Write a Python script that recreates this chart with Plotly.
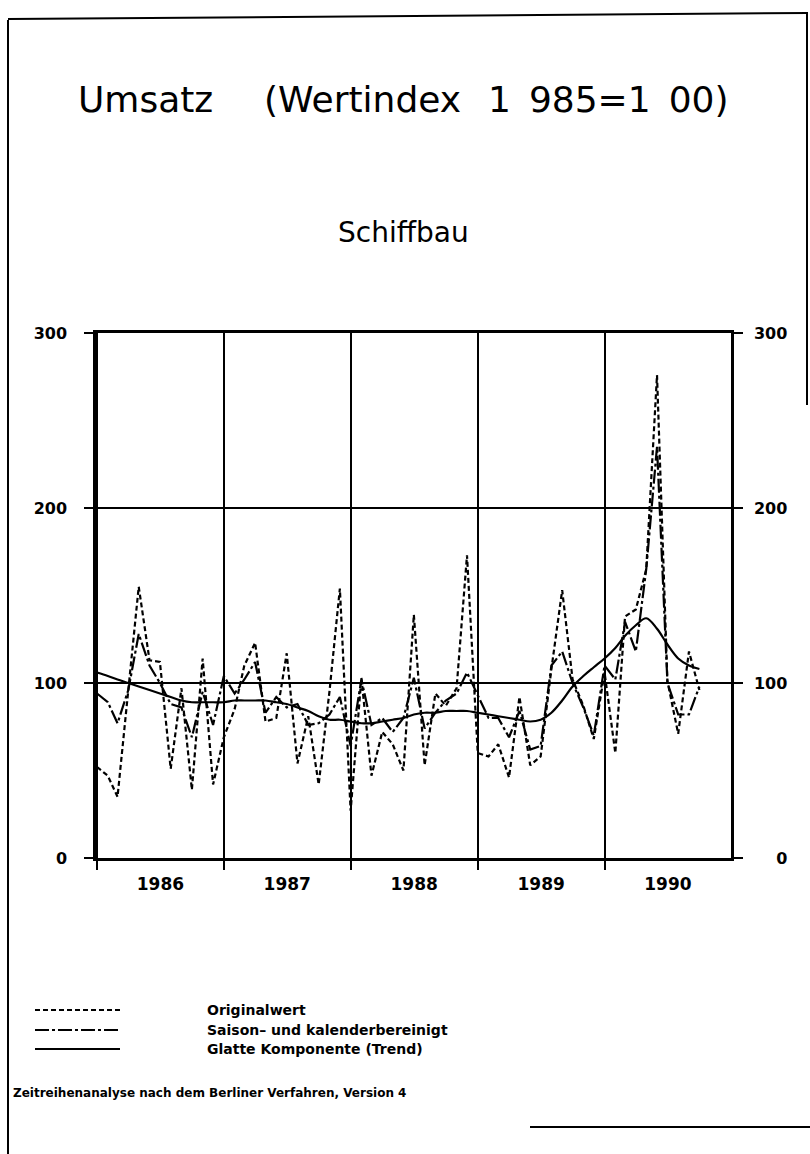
import plotly.graph_objects as go

# ---------------- data (monthly, Jan 1986 .. Oct 1990) ----------------
months = [f"{1986 + i // 12}-{i % 12 + 1:02d}-01" for i in range(58)]

original = [52, 47, 35, 95, 155, 113, 112, 51, 97, 39, 114, 42,
            69, 85, 110, 123, 78, 80, 117, 54, 81, 42, 95, 154,
            27, 103, 47, 72, 65, 50, 139, 53, 94, 87, 97, 173,
            60, 58, 65, 46, 92, 53, 58, 108, 153, 102, 87, 68,
            106, 60, 138, 142, 165, 276, 101, 71, 118, 96]

seasonal_adj = [94, 89, 77, 96, 128, 110, 100, 88, 86, 69, 95, 76,
                104, 94, 102, 112, 83, 92, 86, 88, 76, 77, 82, 92,
                64, 102, 76, 80, 72, 80, 103, 74, 83, 90, 94, 106,
                93, 80, 80, 69, 84, 62, 64, 110, 118, 100, 86, 70,
                110, 102, 135, 118, 165, 235, 100, 82, 82, 98]

trend = [106, 104, 102, 100, 98, 96, 94, 92, 90, 89, 89, 89,
         89, 90, 90, 90, 90, 89, 88, 86, 84, 81, 79, 79,
         78, 77, 77, 78, 79, 80, 82, 83, 83, 84, 84, 84,
         83, 82, 81, 80, 79, 78, 79, 83, 90, 98, 104, 109,
         114, 120, 127, 133, 137, 131, 122, 114, 110, 108]

y_ticks = [0, 100, 200, 300]
y_right_labels = ["\u2007\u20070", "100", "200", "300"]
title_parts = ["Umsatz", "(Wertindex", "1\u2002985=1\u200200)"]
subtitle = "Schiffbau"
legend_labels = ["Originalwert", "Saison\u2013 und kalenderbereinigt", "Glatte Komponente (Trend)"]
footer = "Zeitreihenanalyse nach dem Berliner Verfahren, Version 4"

# ---------------- layout geometry ----------------
W, H = 810, 1154
L, R, T, B = 96, 79, 333, 296
PW, PH = W - L - R, H - T - B


def px(xp):
    return (xp - L) / PW


def py(yp):
    return (H - B - yp) / PH


SANS = "DejaVu Sans"
DASH_ORIG = "5px,3px"
DASH_SA = "14px,3px,3px,3px"

fig = go.Figure()
fig.add_trace(go.Scatter(x=months, y=original, mode="lines", name=legend_labels[0],
                         line=dict(color="black", width=2.2, dash=DASH_ORIG)))
fig.add_trace(go.Scatter(x=months, y=seasonal_adj, mode="lines", name=legend_labels[1],
                         line=dict(color="black", width=2.2, dash=DASH_SA)))
fig.add_trace(go.Scatter(x=months, y=trend, mode="lines", name=legend_labels[2],
                         line=dict(color="black", width=2.2, shape="spline")))
# invisible trace to activate the right axis
fig.add_trace(go.Scatter(x=[months[0]], y=[0], yaxis="y2", mode="markers",
                         marker=dict(opacity=0), showlegend=False, hoverinfo="skip"))

axis_font = dict(family=SANS, size=16, color="black", weight="bold")

fig.update_layout(
    width=W, height=H,
    margin=dict(l=L, r=R, t=T, b=B),
    paper_bgcolor="white", plot_bgcolor="white",
    showlegend=False,
    xaxis=dict(
        type="date", range=["1985-12-29", "1990-12-31"],
        dtick="M12", tick0="1986-01-01", tickformat="%Y", ticklabelmode="period",
        ticks="outside", ticklen=9, tickwidth=2, tickcolor="black",
        showgrid=True, gridcolor="black", gridwidth=2,
        showline=True, linecolor="black", linewidth=2.5, mirror=True,
        tickfont=dict(family=SANS, size=17, color="black", weight="bold"),
        zeroline=False,
    ),
    yaxis=dict(
        range=[0, 300], tickvals=y_ticks, ticktext=[str(v) for v in y_ticks],
        ticks="outside", ticklen=9, tickwidth=2, tickcolor="black",
        showgrid=True, gridcolor="black", gridwidth=2,
        showline=True, linecolor="black", linewidth=2.5,
        tickfont=axis_font, zeroline=False, ticklabelstandoff=14,
    ),
    yaxis2=dict(
        range=[0, 300], tickvals=y_ticks, ticktext=y_right_labels,
        overlaying="y", side="right",
        ticks="outside", ticklen=9, tickwidth=2, tickcolor="black",
        showgrid=False, showline=True, linecolor="black", linewidth=2.5,
        tickfont=axis_font, zeroline=False, ticklabelstandoff=8,
    ),
)

# titles
title_font = dict(family=SANS, size=36, color="black")
fig.add_annotation(x=px(76), y=py(100), xref="paper", yref="paper", text=title_parts[0],
                   showarrow=False, xanchor="left", yanchor="middle", font=title_font)
fig.add_annotation(x=px(262), y=py(100), xref="paper", yref="paper", text=title_parts[1],
                   showarrow=False, xanchor="left", yanchor="middle", font=title_font)
fig.add_annotation(x=px(731), y=py(100), xref="paper", yref="paper", text=title_parts[2],
                   showarrow=False, xanchor="right", yanchor="middle", font=title_font)
fig.add_annotation(x=px(403), y=py(232), xref="paper", yref="paper",
                   text=subtitle, showarrow=False,
                   font=dict(family=SANS, size=28, color="black"),
                   xanchor="center", yanchor="middle")

# legend (manual)
leg_y = [1010, 1030, 1049]
leg_dash = [DASH_ORIG, DASH_SA, "solid"]
for yy, dsh, lab in zip(leg_y, leg_dash, legend_labels):
    fig.add_shape(type="line", xref="paper", yref="paper",
                  x0=px(35), x1=px(120), y0=py(yy), y1=py(yy),
                  line=dict(color="black", width=2, dash=dsh))
    fig.add_annotation(x=px(205), y=py(yy), xref="paper", yref="paper",
                       text=lab, showarrow=False, xanchor="left", yanchor="middle",
                       font=dict(family=SANS, size=14, color="black", weight="bold"))

fig.add_annotation(x=px(11), y=py(1093), xref="paper", yref="paper",
                   text=footer, showarrow=False, xanchor="left", yanchor="middle",
                   font=dict(family=SANS, size=12, color="black", weight="bold"))

# page frame
frame = [(8, 20, 8, 1154), (8, 19, 808, 13), (807, 13, 807, 405), (530, 1127, 810, 1127)]
for x0, y0, x1, y1 in frame:
    fig.add_shape(type="line", xref="paper", yref="paper",
                  x0=px(x0), y0=py(y0), x1=px(x1), y1=py(y1),
                  line=dict(color="black", width=2))

fig.write_html("out.html", config={"displayModeBar": False},
               post_script="document.body.style.margin='0';document.body.style.overflow='hidden';")
